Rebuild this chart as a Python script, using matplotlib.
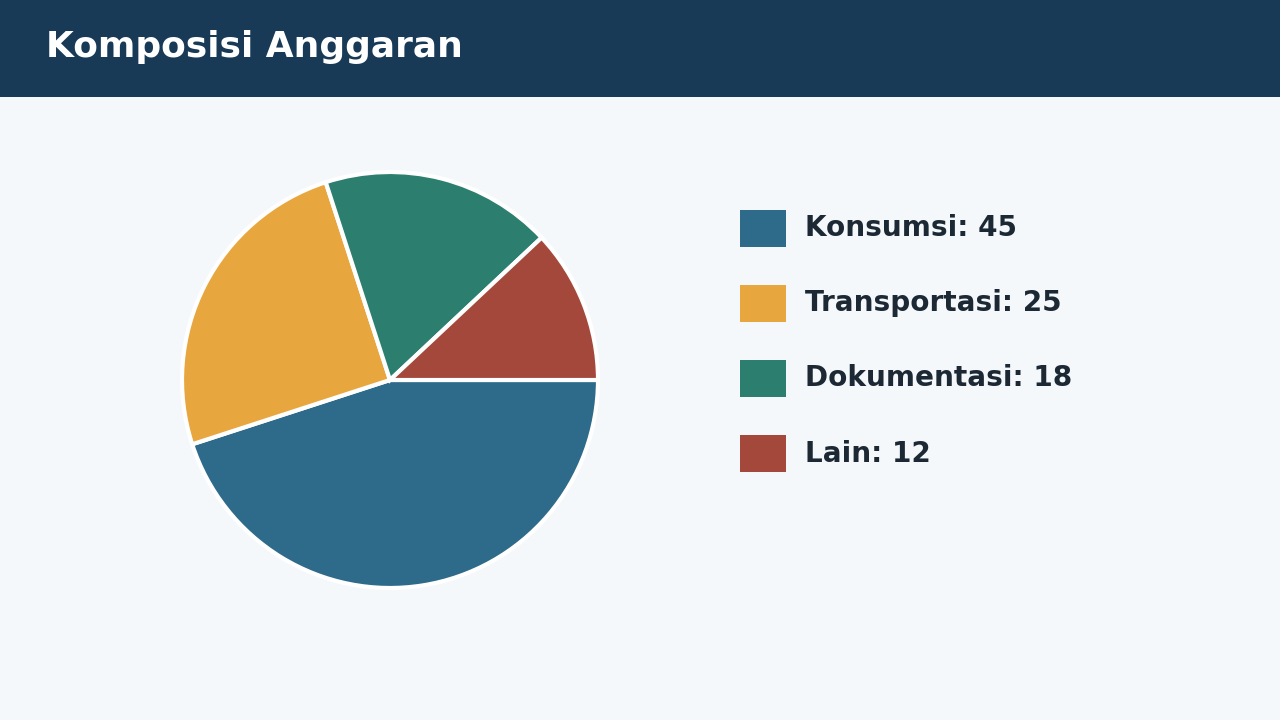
import matplotlib
matplotlib.use("Agg")
import matplotlib.pyplot as plt
from matplotlib.patches import Rectangle

title = "Komposisi Anggaran"
categories = ["Konsumsi", "Transportasi", "Dokumentasi", "Lain"]
values = [45, 25, 18, 12]
colors = ["#2e6a8a", "#e8a63e", "#2c7f6e", "#a3483b"]

W, H = 1280, 720
fig = plt.figure(figsize=(12.8, 7.2), dpi=100)
fig.patch.set_facecolor("#f4f8fb")

# header band
fig.patches.append(Rectangle((0, (H - 97) / H), 1, 97 / H, transform=fig.transFigure,
                             facecolor="#183a56", edgecolor="none", zorder=0))
fig.text(46 / W, 1 - 47 / H, title, color="white", fontsize=25.9, fontweight="bold",
         family="DejaVu Sans", va="center", ha="left")

# pie
cx, cy, r = 390, 380, 208
ax = fig.add_axes([(cx - r) / W, (H - cy - r) / H, 2 * r / W, 2 * r / H])
ax.pie(values, colors=colors, startangle=0, counterclock=False, radius=1,
       wedgeprops=dict(edgecolor="white", linewidth=3))
ax.set_xlim(-1, 1)
ax.set_ylim(-1, 1)
ax.set_aspect("equal")
ax.axis("off")
for p in ax.patches:
    p.set_clip_on(False)

# legend
x0, y0, dy = 740, 210, 75
sw, sh = 46, 37
for i, (c, v, col) in enumerate(zip(categories, values, colors)):
    top = y0 + i * dy
    fig.patches.append(Rectangle((x0 / W, (H - top - sh) / H), sw / W, sh / H,
                                 transform=fig.transFigure, facecolor=col,
                                 edgecolor="none"))
    fig.text(805 / W, 1 - (top + sh / 2) / H, f"{c}: {v}", color="#1c2833",
             fontsize=20.1, fontweight="bold", family="DejaVu Sans",
             va="center", ha="left")

fig.savefig("out.png", dpi=100, facecolor=fig.get_facecolor())
